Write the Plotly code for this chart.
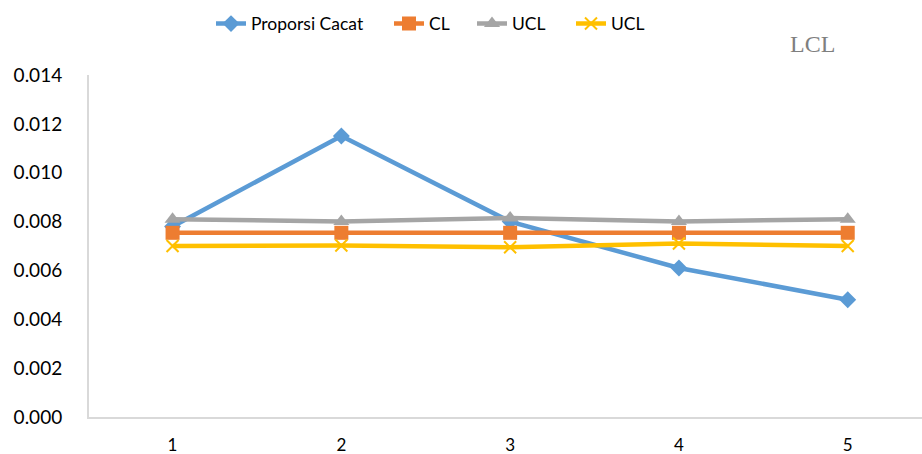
import plotly.graph_objects as go

# Control-chart data (p-chart)
samples = [1, 2, 3, 4, 5]
proporsi_cacat = [0.0078, 0.0115, 0.0080, 0.0061, 0.0048]
cl = [0.00754, 0.00754, 0.00754, 0.00754, 0.00754]
ucl = [0.0081, 0.0080, 0.00815, 0.0080, 0.0081]
lcl = [0.0070, 0.00702, 0.00695, 0.0071, 0.0070]
y_ticks = [0.000, 0.002, 0.004, 0.006, 0.008, 0.010, 0.012, 0.014]

FONT = "Lato"
PLOT_LEFT, PLOT_W = 89, 833

def px_to_paper(px):
    return (px - PLOT_LEFT) / PLOT_W

fig = go.Figure()
fig.add_trace(go.Scatter(
    x=samples, y=proporsi_cacat, name="Proporsi Cacat", mode="lines+markers",
    line=dict(color="#5B9BD5", width=4.5),
    marker=dict(symbol="diamond", size=13, color="#5B9BD5"), legend="legend"))
fig.add_trace(go.Scatter(
    x=samples, y=cl, name="CL", mode="lines+markers",
    line=dict(color="#ED7D31", width=4.5),
    marker=dict(symbol="square", size=14, color="#ED7D31"), legend="legend2"))
fig.add_trace(go.Scatter(
    x=samples, y=ucl, name="UCL", mode="lines+markers",
    line=dict(color="#A5A5A5", width=4.5),
    marker=dict(symbol="triangle-up", size=14, color="#A5A5A5"), legend="legend3"))
fig.add_trace(go.Scatter(
    x=samples, y=lcl, name="UCL", mode="lines+markers",
    line=dict(color="#FFC000", width=4.5),
    marker=dict(symbol="x-thin", size=12, line=dict(color="#FFC000", width=2)),
    legend="legend4"))

fig.add_annotation(
    text="LCL", xref="paper", yref="paper", x=px_to_paper(812), y=1.09,
    xanchor="center", yanchor="middle", showarrow=False,
    font=dict(family="Liberation Serif", size=24, color="#7F7F7F"))

def legend_at(px):
    return dict(orientation="h", x=px_to_paper(px), y=1.15, xanchor="left",
                yanchor="middle", font=dict(family=FONT, size=17.5),
                itemwidth=30, bgcolor="rgba(0,0,0,0)")

fig.update_layout(
    width=922, height=454,
    margin=dict(l=89, r=0, t=75, b=37),
    paper_bgcolor="white", plot_bgcolor="white",
    font=dict(family=FONT, size=19, color="#000000"),
    showlegend=True,
    legend=legend_at(211),
    legend2=legend_at(389),
    legend3=legend_at(472),
    legend4=legend_at(571),
    xaxis=dict(range=[0.505, 5.44], tickvals=samples, ticktext=[str(s) for s in samples],
               showgrid=False, zeroline=False, showline=True, linecolor="#D9D9D9",
               linewidth=2, ticks="", tickfont=dict(size=17), ticklabelstandoff=12),
    yaxis=dict(range=[0, 0.014], tickvals=y_ticks,
               ticktext=[f"{v:.3f}" for v in y_ticks],
               showgrid=False, zeroline=False, showline=True, linecolor="#D9D9D9",
               linewidth=2, ticks="", tickfont=dict(size=19), ticklabelstandoff=21),
)

fig.write_html("out.html")
